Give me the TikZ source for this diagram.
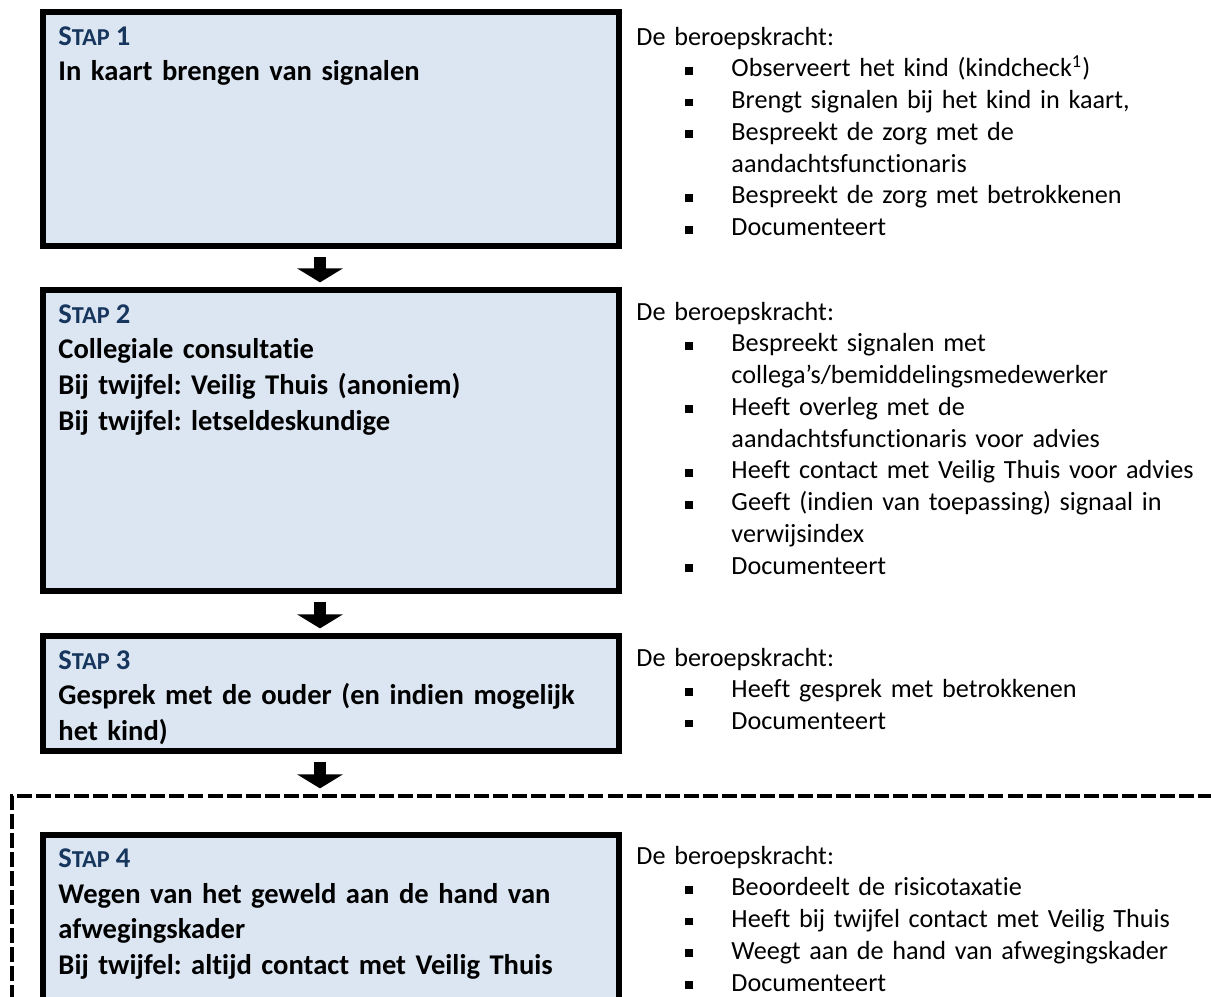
\documentclass[tikz,border=0pt]{standalone}
\usepackage{fontspec}
\setmainfont{Carlito}[Ligatures=NoCommon]
\usepackage{xcolor}
\usetikzlibrary{arrows.meta}
\definecolor{stapvak}{HTML}{DCE6F2}
\definecolor{stapkleur}{HTML}{17365D}
\frenchspacing
\newcommand{\stapkop}[1]{\textcolor{stapkleur}{S{\fontsize{10.2}{12}\selectfont TAP\hspace{2.6pt}}#1}}
\newcommand{\punt}[1]{\par\noindent\hspace*{20.4pt}\makebox[19.5pt][l]{\rule[0.9pt]{3.3pt}{3.3pt}}#1}
\newcommand{\verder}[1]{\par\noindent\hspace*{39.9pt}#1}

\begin{document}
\begin{tikzpicture}[x=0.42pt,y=-0.42pt,
		stapbox/.style={draw, line width=2.52pt, fill=stapvak, inner sep=0pt, outer sep=0pt, anchor=north west, minimum width=241.9pt},
		staptekst/.style={anchor=base west, inner sep=0pt, text width=234pt, align=left, font=\bfseries\fontsize{12}{15}\selectfont},
		uitleg/.style={anchor=base west, inner sep=0pt, text width=241pt, align=left, font=\fontsize{11}{13.35}\selectfont},
		grens/.style={line width=1.68pt, dash pattern=on 6.3pt off 1.7pt},
		pijl/.style={line width=5.04pt, -{Triangle[width=19pt,length=5.9pt]}, shorten <=4.6pt, shorten >=3.2pt}]
	\useasboundingbox (0,0) rectangle (1211,996);
	\coordinate (pijlx) at (320,0);

	\node[stapbox, minimum height=98.3pt] (s1) at (43,12) {};
	\node[stapbox, minimum height=126.4pt] (s2) at (43,290) {};
	\node[stapbox, minimum height=48.3pt] (s3) at (43,636) {};
	\node[stapbox, minimum height=75.6pt] (s4) at (43,834.5) {};

	\draw[grens] (11.5,1000) -- (11.5,796) coordinate (hoek) -- (1215,796);

	\draw[pijl] (s1.south -| pijlx) -- (s2.north -| pijlx);
	\draw[pijl] (s2.south -| pijlx) -- (s3.north -| pijlx);
	\draw[pijl] (s3.south -| pijlx) -- (hoek -| pijlx);

	\node[staptekst] (t1) at (58,45) {\stapkop{1}\\In kaart brengen van signalen};
	\node[staptekst] (t2) at (58,323) {\stapkop{2}\\Collegiale consultatie\\Bij twijfel: Veilig Thuis (anoniem)\\Bij twijfel: letseldeskundige};
	\node[staptekst] (t3) at (58,669) {\stapkop{3}\\Gesprek met de ouder (en indien mogelijk\\het kind)};
	\node[staptekst] (t4) at (58,867.5) {\stapkop{4}\\Wegen van het geweld aan de hand van\\afwegingskader\\Bij twijfel: altijd contact met Veilig Thuis};

	\node[uitleg] (u1) at (636,45) {De beroepskracht:
		\punt{Observeert het kind (kindcheck\textsuperscript{1})}
		\punt{Brengt signalen bij het kind in kaart,}
		\punt{Bespreekt de zorg met de}\verder{aandachtsfunctionaris}
		\punt{Bespreekt de zorg met betrokkenen}
		\punt{Documenteert}};
	\node[uitleg] (u2) at (636,320) {De beroepskracht:
		\punt{Bespreekt signalen met}\verder{collega’s/bemiddelingsmedewerker}
		\punt{Heeft overleg met de}\verder{aandachtsfunctionaris voor advies}
		\punt{Heeft contact met Veilig Thuis voor advies}
		\punt{Geeft (indien van toepassing) signaal in}\verder{verwijsindex}
		\punt{Documenteert}};
	\node[uitleg] (u3) at (636,666) {De beroepskracht:
		\punt{Heeft gesprek met betrokkenen}
		\punt{Documenteert}};
	\node[uitleg] (u4) at (636,864) {De beroepskracht:
		\punt{Beoordeelt de risicotaxatie}
		\punt{Heeft bij twijfel contact met Veilig Thuis}
		\punt{Weegt aan de hand van afwegingskader}
		\punt{Documenteert}};
\end{tikzpicture}
\end{document}
